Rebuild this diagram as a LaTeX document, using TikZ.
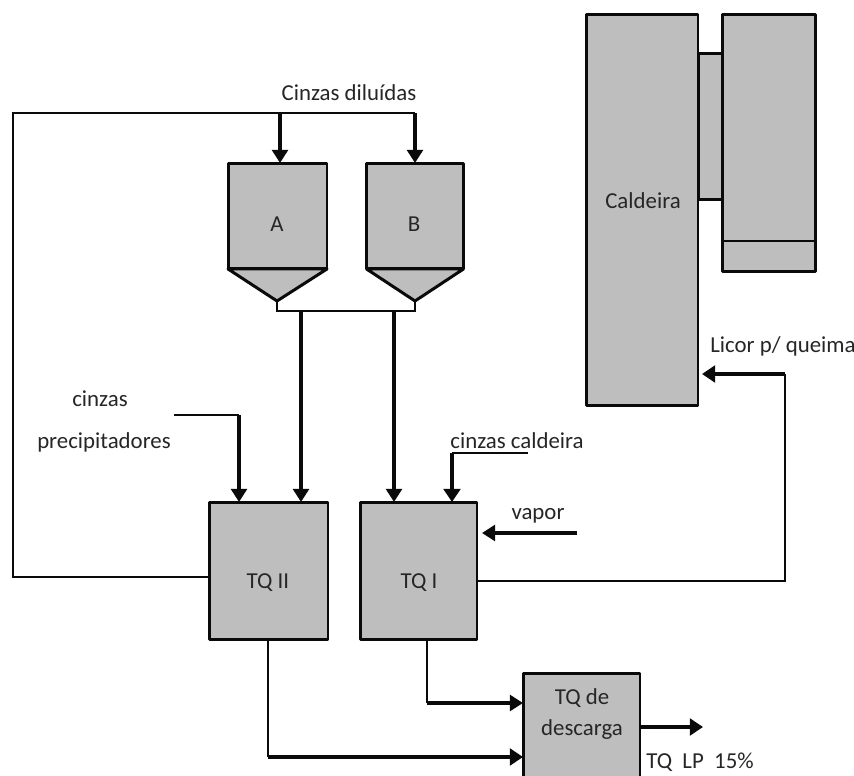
\documentclass[tikz,border=0pt]{standalone}
\usepackage{fontspec}
\setmainfont{Carlito}
\usetikzlibrary{arrows.meta,calc,positioning}
\definecolor{tankgray}{RGB}{190,190,190}
\definecolor{inkblack}{RGB}{10,10,10}
\tikzset{
    tank/.style={draw=inkblack,fill=tankgray,line width=1.7pt,line join=round,inner sep=0pt,outer sep=0pt},
    feed/.style={draw=inkblack,line width=0.85pt},
    flow/.style={draw=inkblack,line width=1.9pt,-{Triangle[length=7.5pt,width=9pt]}},
    heavyflow/.style={draw=inkblack,line width=2.7pt,-{Triangle[length=7.5pt,width=9.5pt]}},
    tag/.style={text=black!85,inner sep=0pt,font=\fontsize{13}{15}\selectfont}
}

\begin{document}
\begin{tikzpicture}[x=0.02cm,y=-0.02cm]
    \useasboundingbox (0,0) rectangle (854,776);
    \fill[white] (0,0) rectangle (854,776);

    \node[tank,minimum width=1.98cm,minimum height=2.12cm] (tankA) at (277.5,216) {};
    \node[tank,minimum width=1.94cm,minimum height=2.12cm] (tankB) at (415,216) {};
    \coordinate (tipA) at (277,301);
    \coordinate (tipB) at (415,301);
    \draw[tank] (tankA.south west) -- (tankA.south east) -- (tipA) -- cycle;
    \draw[tank] (tankB.south west) -- (tankB.south east) -- (tipB) -- cycle;

    \node[tank,minimum width=2.38cm,minimum height=2.76cm] (tqII) at (268.5,571) {};
    \node[tank,minimum width=2.34cm,minimum height=2.76cm] (tqI) at (418.5,571) {};
    \node[tank,minimum width=2.34cm,minimum height=3.2cm] (tqD) at (581.5,753) {};

    \node[tank,minimum width=0.48cm,minimum height=2.94cm] (duct) at (710,126.5) {};
    \node[tank,minimum width=2.24cm,minimum height=7.84cm] (caldeira) at (642,210) {};
    \node[tank,minimum width=1.86cm,minimum height=5.16cm] (stack) at (768.5,143) {};
    \coordinate (stackSplit) at (768.5,241);
    \draw[tank,fill=none] (stack.west |- stackSplit) -- (stack.east |- stackSplit);

    \node[tag] (lblA) at (277,224) {A};
    \node[tag] (lblB) at (414,224) {B};
    \node[tag] (lblII) at (268,583) {TQ II};
    \node[tag] (lblI) at (419,583) {TQ I};
    \node[tag] (lblTQ) at (582,698) {TQ de};
    \node[tag] (lblDes) at (582,730) {descarga};
    \node[tag] (lblCald) at (643,201) {Caldeira};
    \node[tag] (lblDil) at (349,93) {Cinzas diluídas};
    \node[tag] (lblCin) at (100,399) {cinzas};
    \node[tag] (lblPre) at (104,442) {precipitadores};
    \node[tag] (lblCal) at (517,441) {cinzas caldeira};
    \node[tag] (lblVap) at (538,516) {vapor};
    \node[tag] (lblLic) at (783,346) {Licor p/ queima};
    \node[tag] (lblLP) at (700,762) {TQ\ \ LP\ \ 15\%};

    \coordinate (inA) at (280,113);
    \coordinate (inB) at (415,113);
    \coordinate (cornerTop) at (13,113);
    \coordinate (cornerLow) at (13,577);
    \coordinate (joinA) at (277,311);
    \coordinate (joinB) at (415,311);
    \coordinate (dropII) at (301,311);
    \coordinate (dropI) at (394,311);
    \coordinate (srcPre) at (174,415);
    \coordinate (bendPre) at (239,415);
    \coordinate (srcCal) at (528,453);
    \coordinate (bendCal) at (452,453);
    \coordinate (srcVap) at (577,533);
    \coordinate (bendLow) at (785,581);
    \coordinate (licor) at (785,374);
    \coordinate (bendI) at (427,703);
    \coordinate (bendII) at (268,757);
    \coordinate (outD) at (703,727);

    \draw[feed] (tqII.west |- cornerLow) -- (cornerLow) -- (cornerTop) -- (inB);
    \draw[flow] (inA) -- (inA |- tankA.north);
    \draw[flow] (inB) -- (inB |- tankB.north);

    \draw[feed] (tipA) -- (joinA) -- (joinB) -- (tipB);
    \draw[flow] (dropII) -- (dropII |- tqII.north);
    \draw[flow] (dropI) -- (dropI |- tqI.north);

    \draw[feed] (srcPre) -- (bendPre);
    \draw[flow] (bendPre) -- (bendPre |- tqII.north);
    \draw[feed] (srcCal) -- (bendCal);
    \draw[heavyflow] (bendCal) -- (bendCal |- tqI.north);
    \draw[flow] (srcVap) -- ($(tqI.east |- srcVap)+(5,0)$);

    \draw[feed] (tqI.east |- bendLow) -- (bendLow) -- (licor);
    \draw[heavyflow] (licor) -- ($(caldeira.east |- licor)+(4,0)$);

    \draw[feed] (bendI |- tqI.south) -- (bendI);
    \draw[flow] (bendI) -- (tqD.west |- bendI);
    \draw[feed] (bendII |- tqII.south) -- (bendII);
    \draw[heavyflow] (bendII) -- (tqD.west |- bendII);
    \draw[heavyflow] (tqD.east |- outD) -- (outD);
\end{tikzpicture}
\end{document}
